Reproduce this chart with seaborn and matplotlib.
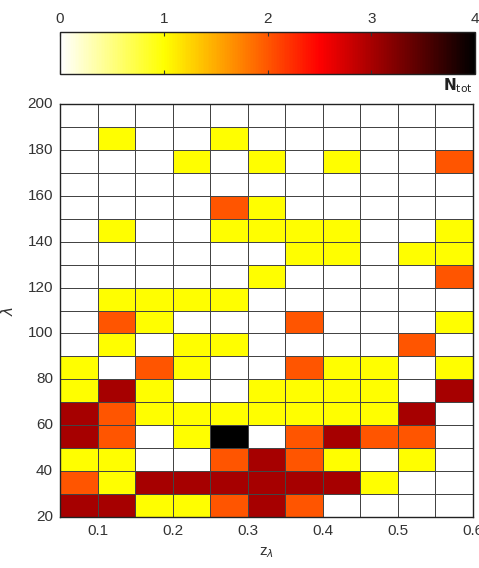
import numpy as np
import pandas as pd
import matplotlib
matplotlib.use("Agg")
import matplotlib.pyplot as plt
from matplotlib.colors import LinearSegmentedColormap
import seaborn as sns

# bin edges
z_edges = [0.05, 0.10, 0.15, 0.20, 0.25, 0.30, 0.35, 0.40, 0.45, 0.50, 0.55, 0.60]
lam_edges = list(range(20, 201, 10))

# counts per cell, rows listed from lambda 20-30 (bottom) up to 190-200 (top)
row_20 = [3, 3, 1, 1, 2, 3, 2, 0, 0, 0, 0]
row_30 = [2, 1, 3, 3, 3, 3, 3, 3, 1, 0, 0]
row_40 = [1, 1, 0, 0, 2, 3, 2, 1, 0, 1, 0]
row_50 = [3, 2, 0, 1, 4, 0, 2, 3, 2, 2, 0]
row_60 = [3, 2, 1, 1, 1, 1, 1, 1, 1, 3, 0]
row_70 = [1, 3, 1, 0, 0, 1, 1, 1, 1, 0, 3]
row_80 = [1, 0, 2, 1, 0, 0, 2, 1, 1, 0, 1]
row_90 = [0, 1, 0, 1, 1, 0, 0, 0, 0, 2, 0]
row_100 = [0, 2, 1, 0, 0, 0, 2, 0, 0, 0, 1]
row_110 = [0, 1, 1, 1, 1, 0, 0, 0, 0, 0, 0]
row_120 = [0, 0, 0, 0, 0, 1, 0, 0, 0, 0, 2]
row_130 = [0, 0, 0, 0, 0, 0, 1, 1, 0, 1, 1]
row_140 = [0, 1, 0, 0, 1, 1, 1, 1, 0, 0, 1]
row_150 = [0, 0, 0, 0, 2, 1, 0, 0, 0, 0, 0]
row_160 = [0, 0, 0, 0, 0, 0, 0, 0, 0, 0, 0]
row_170 = [0, 0, 0, 1, 0, 1, 0, 1, 0, 0, 2]
row_180 = [0, 1, 0, 0, 1, 0, 0, 0, 0, 0, 0]
row_190 = [0, 0, 0, 0, 0, 0, 0, 0, 0, 0, 0]

rows = [row_20, row_30, row_40, row_50, row_60, row_70, row_80, row_90, row_100,
        row_110, row_120, row_130, row_140, row_150, row_160, row_170, row_180, row_190]

x_ticks = [0.1, 0.2, 0.3, 0.4, 0.5, 0.6]
x_ticklabels = ["0.1", "0.2", "0.3", "0.4", "0.5", "0.6"]
y_ticks = [20, 40, 60, 80, 100, 120, 140, 160, 180, 200]
cbar_ticks = [0, 1, 2, 3, 4]

df = pd.DataFrame(rows,
                  index=[f"{lam_edges[i]}-{lam_edges[i+1]}" for i in range(len(rows))],
                  columns=[f"{z_edges[j]:.2f}" for j in range(len(z_edges) - 1)])

cmap = LinearSegmentedColormap.from_list(
    "ntot",
    [(0.0, (1, 1, 1)), (0.25, (1, 1, 0)), (0.5, (1, 0.34, 0)),
     (0.625, (1, 0, 0)), (0.75, (0.66, 0, 0)), (1.0, (0, 0, 0))])

plt.rcParams['font.family'] = ['Liberation Sans', 'DejaVu Sans']
txt = '#333333'

fig = plt.figure(figsize=(4.79, 5.68), dpi=100)
ax = fig.add_axes([60/479, 1 - 517/568, (473 - 60)/479, (517 - 104)/568])
cax = fig.add_axes([60/479, 1 - 74/568, (475 - 60)/479, (74 - 32)/568])

sns.heatmap(df, ax=ax, cmap=cmap, vmin=0, vmax=4, linewidths=0.6, linecolor='#444444',
            cbar=True, cbar_ax=cax, cbar_kws={'orientation': 'horizontal', 'ticks': cbar_ticks})

ncol = len(z_edges) - 1
nrow = len(rows)
ax.set_ylim(0, nrow)
ax.set_xlim(0, ncol)
dz = z_edges[1] - z_edges[0]
ax.set_xticks([(v - z_edges[0]) / dz for v in x_ticks])
ax.set_xticklabels(x_ticklabels, rotation=0)
ax.set_yticks([(v - lam_edges[0]) / 10 for v in y_ticks])
ax.set_yticklabels([str(v) for v in y_ticks], rotation=0)
ax.tick_params(length=0, labelsize=11, colors=txt, pad=5)
ax.set_xlabel(r'z$_\lambda$', fontsize=11, color=txt, labelpad=5)
ax.set_ylabel(r'$\lambda$', fontsize=11, color=txt, labelpad=8)
for sp in ax.spines.values():
    sp.set_visible(True)
    sp.set_color('#222222')
    sp.set_linewidth(1.0)

# colorbar styling
cax.xaxis.set_ticks_position('top')
cax.xaxis.set_label_position('top')
cax.tick_params(axis='x', direction='in', length=3, labelsize=11, colors=txt,
                top=True, bottom=True, labeltop=True, labelbottom=False, pad=4)
cax.set_xticklabels([str(t) for t in cbar_ticks])
cbar = ax.collections[0].colorbar
cbar.outline.set_visible(True)
cbar.outline.set_edgecolor('#222222')
cbar.outline.set_linewidth(1.0)
fig.text(473/479, 1 - 86/568, r'$\mathbf{N}_{\mathrm{tot}}$', ha='right', va='center',
         fontsize=11, color='#222222')

fig.savefig('out.png', dpi=100)
